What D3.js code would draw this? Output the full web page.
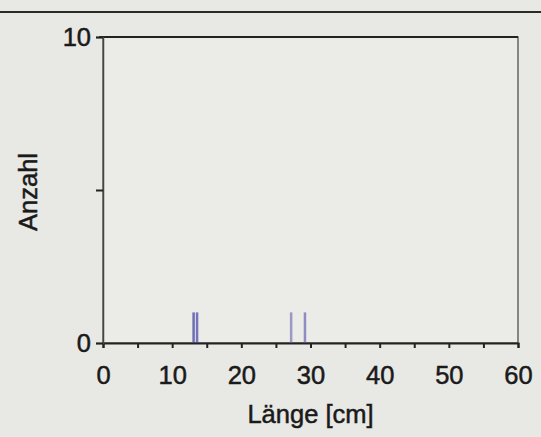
<!DOCTYPE html>
<html>
<head>
<meta charset="utf-8">
<script src="https://cdn.jsdelivr.net/npm/d3@7/dist/d3.min.js"></script>
<style>
  body { margin: 0; background: #e8e8e4; }
  svg { display: block; }
  text { font-family: "Liberation Sans", Arial, sans-serif; fill: #1a1a1a; stroke: #1a1a1a; stroke-width: 0.5px; }
</style>
</head>
<body>
<div id="chart-area"></div>
<script>
// lengths (cm) and their counts
var laengen = [13.1, 13.6, 27.2, 29.2];
var anzahl = [1, 1, 1, 1];
var farben = ["#6e6eb6", "#7474b8", "#9a98c4", "#8e8cc0"];
var xTicks = [0, 10, 20, 30, 40, 50, 60];
var yTicks = [0, 10];

var W = 541, H = 437;
var margin = {top: 37, right: 23, bottom: 94, left: 103};
var w = W - margin.left - margin.right;
var h = H - margin.top - margin.bottom;
var fs = 25.5;

var svg = d3.select("#chart-area").append("svg")
	.attr("width", W)
	.attr("height", H);

// page rule at the top
svg.append("line")
	.attr("x1", 0).attr("x2", W)
	.attr("y1", 12).attr("y2", 12)
	.attr("stroke", "#2a2a2a")
	.attr("stroke-width", 2);

var g = svg.append("g")
	.attr("transform", "translate(" + margin.left + "," + margin.top + ")");

var x = d3.scaleLinear().domain([0, 60]).range([0, w]);
var y = d3.scaleLinear().domain([0, 10]).range([h, 0]);

// frame
g.append("rect")
	.attr("x", 0).attr("y", 0)
	.attr("width", w).attr("height", h)
	.attr("fill", "#ebebe8")
	.attr("stroke", "#444")
	.attr("stroke-width", 1.2);
g.append("line")
	.attr("x1", -4).attr("x2", w)
	.attr("y1", 0).attr("y2", 0)
	.attr("stroke", "#222").attr("stroke-width", 2);

// bars (thin lines)
g.selectAll(".bar")
	.data(laengen)
	.enter().append("line")
	.attr("class", "bar")
	.attr("x1", function(d){ return x(d); })
	.attr("x2", function(d){ return x(d); })
	.attr("y1", y(0))
	.attr("y2", function(d, i){ return y(anzahl[i]); })
	.attr("stroke", function(d, i){ return farben[i]; })
	.attr("stroke-width", 2.5);

// x axis
var xAxis = d3.axisBottom(x)
	.tickValues(d3.range(0, 61, 5))
	.tickSize(5)
	.tickFormat(function(d){ return xTicks.indexOf(d) >= 0 ? d : ""; })
	.tickPadding(18);
var gx = g.append("g")
	.attr("transform", "translate(0," + h + ")")
	.call(xAxis);
gx.attr("font-size", fs).attr("font-family", null);
gx.select(".domain").attr("stroke", "#222").attr("stroke-width", 2);
gx.selectAll(".tick line").attr("stroke", "#222").attr("stroke-width", 2);
gx.selectAll("text").attr("fill", "#1a1a1a");

// y axis
var yAxis = d3.axisLeft(y)
	.tickValues([0, 5, 10])
	.tickSize(7)
	.tickPadding(5)
	.tickFormat(function(d){ return yTicks.indexOf(d) >= 0 ? d : ""; });
var gy = g.append("g").call(yAxis);
gy.attr("font-size", fs).attr("font-family", null);
gy.select(".domain").attr("stroke", "#444").attr("stroke-width", 1.5);
gy.selectAll(".tick line").attr("stroke", "#222").attr("stroke-width", 2);
gy.selectAll("text").attr("fill", "#1a1a1a");

// axis titles
svg.append("text")
	.attr("x", margin.left + w / 2)
	.attr("y", 423)
	.attr("text-anchor", "middle")
	.attr("font-size", fs)
	.text("Länge [cm]");

svg.append("text")
	.attr("transform", "translate(37," + (margin.top + h / 2 + 2) + ") rotate(-90)")
	.attr("text-anchor", "middle")
	.attr("font-size", fs)
	.text("Anzahl");
</script>
</body>
</html>
